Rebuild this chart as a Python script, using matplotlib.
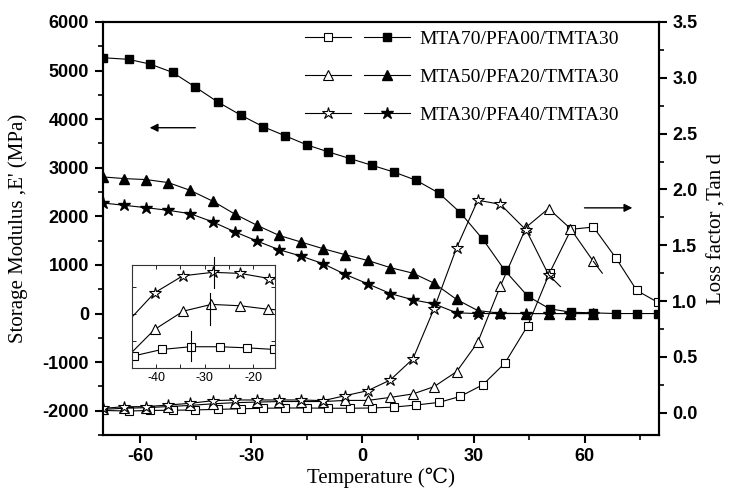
import numpy as np
import matplotlib.pyplot as plt
from matplotlib.ticker import MultipleLocator
from matplotlib.legend_handler import HandlerTuple
from matplotlib.lines import Line2D

plt.rcParams['axes.unicode_minus'] = False

# data
# MTA70/PFA00/TMTA30 (squares)
t_sq = [-69.9, -63.1, -57.3, -51.2, -45.2, -39.1, -32.8, -26.7, -20.8, -15.0, -9.2, -3.4,
        2.5, 8.4, 14.5, 20.6, 26.4, 32.5, 38.4, 44.6, 50.5, 56.3, 62.3, 68.3, 74.0, 79.6]
E_sq = [5264, 5231, 5134, 4962, 4666, 4357, 4082, 3842, 3656, 3471, 3326, 3190,
        3052, 2914, 2742, 2480, 2076, 1526, 887, 357, 97, 27, 14, 0, 0, 0]
tan_sq = [0.02, 0.015, 0.02, 0.022, 0.025, 0.03, 0.035, 0.04, 0.042, 0.042, 0.04, 0.04,
          0.042, 0.05, 0.069, 0.092, 0.146, 0.251, 0.443, 0.781, 1.254, 1.643, 1.663, 1.389, 1.095, 0.99]

# MTA50/PFA20/TMTA30 (triangles) and MTA30/PFA40/TMTA30 (stars)
t_tr = [-69.9, -64.2, -58.4, -52.4, -46.5, -40.3, -34.3, -28.4, -22.5, -16.5, -10.6, -4.6,
        1.4, 7.5, 13.6, 19.3, 25.4, 31.1, 37.2, 44.2, 50.2, 56.1, 62.3]
E_tr = [2811, 2777, 2757, 2695, 2536, 2309, 2041, 1814, 1608, 1470, 1334, 1210,
        1093, 945, 831, 625, 289, 62, 6, 0, 0, 0, 0]
tan_tr = [0.03, 0.04, 0.045, 0.055, 0.065, 0.08, 0.09, 0.095, 0.1, 0.1, 0.1, 0.11,
          0.11, 0.137, 0.168, 0.233, 0.368, 0.631, 1.134, 1.663, 1.829, 1.649, 1.355]
E_st = [2274, 2227, 2179, 2124, 2056, 1883, 1677, 1491, 1313, 1181, 1025, 804,
        612, 412, 282, 200, 14, 0, 0, 0, 0, 0, 0]
tan_st = [0.039, 0.054, 0.054, 0.069, 0.084, 0.108, 0.114, 0.114, 0.114, 0.114, 0.108, 0.153,
          0.197, 0.293, 0.482, 0.931, 1.478, 1.903, 1.867, 1.634, 1.236]
# line tails past the last marker
tail_tr = ([62.3, 64.7], [1.355, 1.25])
tail_st = ([50.2, 53.4], [1.236, 1.13])

# inset (zoom of low-temperature tan d, arbitrary units)
in_t_st = [-46.5, -40.3, -34.5, -28.3, -22.7, -16.7, -10.6]
in_st = [1.6, 2.8, 3.43, 3.56, 3.52, 3.33, 3.25]
in_t_tr = [-46.5, -40.3, -34.4, -28.6, -22.7, -16.9, -10.6]
in_tr = [0.32, 1.44, 2.12, 2.37, 2.32, 2.19, 2.12]
in_t_sq = [-44.6, -38.8, -32.9, -26.9, -21.3, -15.7]
in_sq = [0.46, 0.7, 0.8, 0.8, 0.76, 0.7]
peaks = [(-28.1, 2.96, 4.13), (-28.8, 1.6, 2.78), (-32.9, 0.27, 1.38)]

labels = ['MTA70/PFA00/TMTA30', 'MTA50/PFA20/TMTA30', 'MTA30/PFA40/TMTA30']

serif = ['Liberation Serif', 'DejaVu Serif']
tickfont = dict(family='Liberation Sans', weight='bold', size=13)

fig = plt.figure(figsize=(7.32, 4.93), dpi=100)
ax1 = fig.add_axes([0.1407, 0.1176, 0.7596, 0.8378])
ax2 = ax1.twinx()

lw = 0.8
sty = dict(color='black', lw=lw, mec='black')
# storage modulus - filled markers
ax1.plot(t_sq, E_sq, marker='s', ms=5.5, mfc='black', **sty)
ax1.plot(t_tr, E_tr, marker='^', ms=7, mfc='black', **sty)
ax1.plot(t_tr, E_st, marker='*', ms=9, mfc='black', **sty)
# loss factor - open markers
ax2.plot(t_sq, tan_sq, marker='s', ms=5.5, mfc='white', mew=0.8, **sty)
ax2.plot(t_tr, tan_tr, marker='^', ms=7, mfc='white', mew=0.8, **sty)
ax2.plot(t_tr[:len(tan_st)], tan_st, marker='*', ms=9, mfc='white', mew=0.8, **sty)
ax2.plot(*tail_tr, color='black', lw=lw)
ax2.plot(*tail_st, color='black', lw=lw)

ax1.set_xlim(-70, 80)
ax1.set_ylim(-2500, 6000)
ax2.set_ylim(-0.2, 3.5)

ax1.xaxis.set_major_locator(MultipleLocator(30))
ax1.xaxis.set_minor_locator(MultipleLocator(15))
ax1.yaxis.set_major_locator(MultipleLocator(1000))
ax1.yaxis.set_minor_locator(MultipleLocator(500))
ax2.yaxis.set_minor_locator(MultipleLocator(0.25))
ax2.set_yticks(np.arange(0, 3.51, 0.5))

for ax in (ax1, ax2):
    for s in ax.spines.values():
        s.set_linewidth(1.5)
    ax.tick_params(which='major', direction='out', length=6, width=1.5)
    ax.tick_params(which='minor', direction='out', length=3.5, width=1.2)
ax1.tick_params(top=False, right=False, which='both')
ax1.tick_params(axis='y', pad=4)
for lab in ax1.get_xticklabels() + ax1.get_yticklabels():
    lab.set_family('Liberation Sans')
    lab.set_fontweight('bold')
    lab.set_fontsize(13)

ax2.set_yticklabels([f'{v:.1f}' for v in np.arange(0, 3.51, 0.5)],
                    fontdict=tickfont)

ax1.set_xlabel('Temperature (℃)', family=serif, fontsize=15)
ax1.set_ylabel("Storage Modulus ,E' (MPa)", family=serif, fontsize=15)
ax2.set_ylabel('Loss factor ,Tan d', family=serif, fontsize=15)
ax1.xaxis.set_label_coords(0.5, -0.08)
ax1.yaxis.set_label_coords(-0.135, 0.5)
ax2.yaxis.set_label_coords(1.088, 0.5)

# arrows
ax1.annotate('', xy=(0.079, 0.744), xytext=(0.171, 0.744), xycoords='axes fraction',
             arrowprops=dict(arrowstyle='-|>', color='black', lw=1, mutation_scale=12))
ax1.annotate('', xy=(0.957, 0.55), xytext=(0.861, 0.55), xycoords='axes fraction',
             arrowprops=dict(arrowstyle='-|>', color='black', lw=1, mutation_scale=12))

# legend: open + filled sample per row
mk = ['s', '^', '*']
ms = [5.5, 7, 9]
handles = []
for m, s in zip(mk, ms):
    h_open = Line2D([], [], color='black', lw=lw, marker=m, ms=s, mfc='white', mec='black', mew=0.8)
    h_fill = Line2D([], [], color='black', lw=lw, marker=m, ms=s, mfc='black', mec='black')
    handles.append((h_open, h_fill))
fig.legend(handles, labels, handler_map={tuple: HandlerTuple(ndivide=None, pad=0.7)},
           loc='upper left', bbox_to_anchor=(305 / 732, 1 - 30 / 493), frameon=False,
           prop=dict(family='Liberation Serif', size=14), numpoints=1,
           handlelength=5.4, handletextpad=0.5, labelspacing=1.05,
           borderpad=0, borderaxespad=0)

# inset
axin = fig.add_axes([0.18, 0.2529, 0.1958, 0.2095])
axin.plot(in_t_st, in_st, marker='*', ms=9, mfc='white', mew=0.8, **sty)
axin.plot(in_t_tr, in_tr, marker='^', ms=7, mfc='white', mew=0.8, **sty)
axin.plot(in_t_sq, in_sq, marker='s', ms=5.5, mfc='white', mew=0.8, **sty)
for xp, y0, y1 in peaks:
    axin.plot([xp, xp], [y0, y1], color='black', lw=0.8, clip_on=False)
axin.set_xlim(-45, -15.5)
axin.set_ylim(0, 3.83)
axin.set_xticks([-40, -30, -20])
axin.xaxis.set_minor_locator(MultipleLocator(5))
axin.set_yticks([0, 1, 2, 3])
axin.set_yticklabels([])
axin.tick_params(which='both', direction='in', top=True, right=True, length=3, width=0.6,
                 labelsize=9, pad=3)
for lab in axin.get_xticklabels():
    lab.set_family('Liberation Sans')
for s in axin.spines.values():
    s.set_linewidth(0.8)
    s.set_color('#333333')

plt.savefig('out.png', dpi=100)
